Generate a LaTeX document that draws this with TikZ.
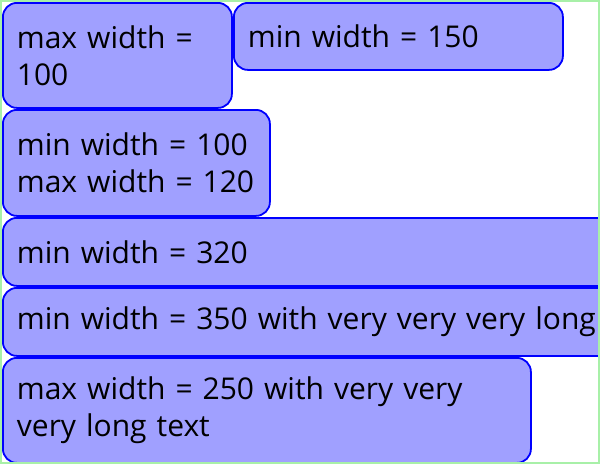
\documentclass[tikz,border=0pt]{standalone}
\usepackage{fontspec}
\setmainfont{Open Sans}
\usepackage{tikz}

\definecolor{boxfill}{HTML}{A0A0FF}
\definecolor{frame}{HTML}{A8F0A8}

\tikzset{
  wbox/.style={draw=blue, fill=boxfill, line width=1.8pt, rounded corners=14pt,
    anchor=north west, align=left, inner xsep=14pt, inner ysep=0pt,
    font=\fontsize{30}{37}\selectfont}
}

\begin{document}
\begin{tikzpicture}[x=1pt,y=-1pt]
\useasboundingbox (0,0) rectangle (600,464);
\clip (0,0) rectangle (600,464);

\node[wbox, minimum width=229pt, text width=201pt, minimum height=105pt] (maxw) at (2,2) {max width =\\100};
\node[wbox, minimum width=329pt, text width=301pt, minimum height=67pt] (minw) at (233,2) {min width = 150};
\node[wbox, minimum width=267pt, text width=239pt, minimum height=106pt] (minmax) at (2,109) {min width = 100\\max width = 120};
\node[wbox, minimum width=640pt, text width=612pt, minimum height=68pt] (minwb) at (2,217) {min width = 320};
\node[wbox, minimum width=640pt, text width=612pt, minimum height=68pt] (minwl) at (2,287) {min width = 350 with very very very long};
\node[wbox, minimum width=528pt, text width=500pt, minimum height=105pt] (maxwl) at (2,357) {max width = 250 with very very\\very long text};

% outer frame
\draw[frame, line width=2pt] (1,1) rectangle (599,463);
\end{tikzpicture}
\end{document}
